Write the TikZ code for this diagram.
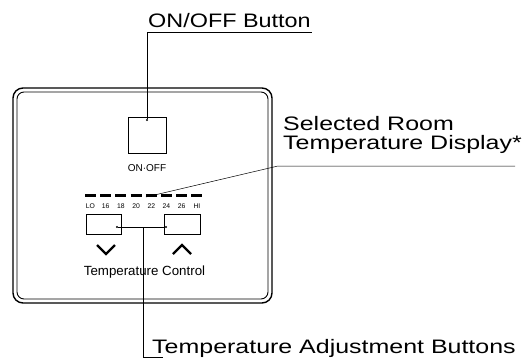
\documentclass[tikz,border=0pt]{standalone}
\usepackage{fontspec}
\setmainfont{Liberation Sans}
\newfontfamily\calloutfont[FakeStretch=1.28]{Liberation Sans}
\newfontfamily\shortcalloutfont[FakeStretch=1.2]{Liberation Sans}
\usetikzlibrary{positioning}
\tikzset{
    panel frame/.style={draw, line width=#1},
    btn box/.style={draw, line width=0.9pt, inner sep=0pt, minimum height=20pt},
    leader/.style={line width=0.5pt},
    tip dot/.style={circle, fill, inner sep=0pt, minimum size=2.4pt},
    callout/.style={font=\calloutfont\fontsize{19.5pt}{23pt}\selectfont, inner sep=0pt, anchor=base west},
    panel label/.style={font=\fontsize{#1}{#1}\selectfont, inner sep=0pt},
    scale label/.style={font=\fontsize{6.8pt}{7pt}\selectfont, inner sep=0pt},
    display seg/.style={line width=3pt},
    chevron/.style={line width=2.2pt, line join=miter},
}

\begin{document}
\begin{tikzpicture}[x=1pt, y=-1pt]
    \useasboundingbox (0,0) rectangle (528,359);
    % housing, double outline
    \draw[panel frame=1.4pt, rounded corners=10pt] (13,88) rectangle (272,303);
    \draw[panel frame=0.9pt, rounded corners=7pt] (17,92) rectangle (268,299);

    % on/off key
    \node[btn box, minimum width=38pt, minimum height=36pt] (onoffbtn) at (147,135) {};
    \node[panel label=10pt, below=11pt of onoffbtn] (onofflabel) {ON·OFF};

    % set temperature display
    \foreach \i/\t in {0/LO, 1/16, 2/18, 3/20, 4/22, 5/24, 6/26, 7/HI} {
        \draw[display seg] ({85+15.2*\i},195) -- ++(11,0);
        \node[scale label] (scale\i) at ({90.5+15.2*\i},206) {\t};
    }

    % up / down keys
    \node[btn box, minimum width=35pt] (downbtn) at (103.5,224) {};
    \node[btn box, minimum width=36pt] (upbtn) at (182,224) {};
    \draw[chevron] (97,245) -- (106,254) -- (115,245);
    \draw[chevron] (173,254) -- (182,245) -- (191,254);
    \node[panel label=13.3pt] (templabel) at (144.5,272) {Temperature Control};

    % callouts
    \node[tip dot] (onoffdot) at (147,120) {};
    \coordinate (onoffbend) at (147,32);
    \coordinate (onoffend) at (312,32);
    \draw[leader] (onoffdot) -- (onoffbend) -- (onoffend);
    \node[callout, font=\shortcalloutfont\fontsize{19.5pt}{23pt}\selectfont] (onofftext) at (148,27) {ON/OFF Button};

    \coordinate (disppt) at (146,197);
    \coordinate (dispbend) at (278,166);
    \coordinate (dispend) at (515,166);
    \draw[leader] (disppt) -- (dispbend) -- (dispend);
    \node[callout] (disptext1) at (283,130) {Selected Room};
    \node[callout] (disptext2) at (283,149) {Temperature Display*};

    \node[tip dot] (downdot) at (117,227) {};
    \node[tip dot] (updot) at (166,227) {};
    \coordinate (adjtop) at (143,227);
    \coordinate (adjbend) at (143,357);
    \coordinate (adjend) at (163,357);
    \draw[leader] (downdot) -- (updot);
    \draw[leader] (adjtop) -- (adjbend) -- (adjend);
    \node[callout] (adjtext) at (152,353) {Temperature Adjustment Buttons};
\end{tikzpicture}
\end{document}
